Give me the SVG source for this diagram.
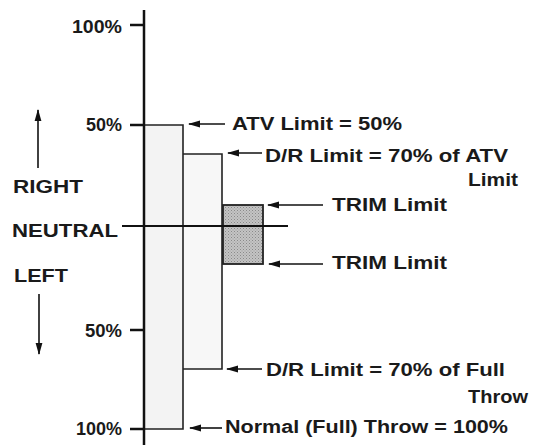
<svg xmlns="http://www.w3.org/2000/svg" width="537" height="448" viewBox="0 0 537 448">
<defs>
<marker id="ah" viewBox="0 0 12 8" refX="11" refY="4" markerWidth="12" markerHeight="8" markerUnits="userSpaceOnUse" orient="auto">
<path d="M12,4 L0,0.6 L0,7.4 Z" fill="#111"/>
</marker>
<pattern id="dots" width="3" height="3" patternUnits="userSpaceOnUse">
<rect width="3" height="3" fill="#c4c4c4"/>
<rect width="1" height="1" fill="#8a8a8a"/>
<rect x="1.5" y="1.5" width="1" height="1" fill="#9a9a9a"/>
</pattern>
</defs>
<style>
text{font-family:"Liberation Sans",Arial,sans-serif;font-weight:bold;fill:#1a1a1a;font-size:18px}
.lead{stroke:#111;stroke-width:1.6;fill:none}
.edge{stroke:#222;stroke-width:1.6;fill:none}
.tick{stroke:#111;stroke-width:2.5}
</style>
<rect width="537" height="448" fill="#fff"/>
<g id="bars">
<rect x="144" y="125" width="39" height="304" fill="#f3f3f3"/>
<rect x="183" y="154" width="39" height="215" fill="#f7f7f7"/>
<path class="edge" d="M144,125 H183 V429 H144"/>
<path class="edge" d="M183,154 H222 V369 H183"/>
</g>
<g id="trim">
<rect x="223" y="205" width="40" height="59" fill="url(#dots)" stroke="#222" stroke-width="1.8"/>
</g>
<g id="axis">
<line class="tick" x1="144" y1="10" x2="144" y2="445" stroke-width="2.8"/>
<line class="tick" x1="130" y1="25" x2="144" y2="25"/>
<line class="tick" x1="130" y1="125" x2="144" y2="125"/>
<line class="tick" x1="130" y1="330" x2="144" y2="330"/>
<line class="tick" x1="130" y1="429" x2="144" y2="429"/>
<line x1="122" y1="226" x2="288" y2="226" stroke="#111" stroke-width="2.2"/>
<text x="122" y="33" text-anchor="end" textLength="50" lengthAdjust="spacingAndGlyphs">100%</text>
<text x="122" y="131" text-anchor="end" textLength="36" lengthAdjust="spacingAndGlyphs">50%</text>
<text x="122" y="337" text-anchor="end" textLength="37" lengthAdjust="spacingAndGlyphs">50%</text>
<text x="122" y="435" text-anchor="end" textLength="46" lengthAdjust="spacingAndGlyphs">100%</text>
<text x="13" y="193" textLength="70" lengthAdjust="spacingAndGlyphs">RIGHT</text>
<text x="12" y="237" textLength="106" lengthAdjust="spacingAndGlyphs">NEUTRAL</text>
<text x="14" y="282" textLength="54" lengthAdjust="spacingAndGlyphs">LEFT</text>
</g>
<g id="direction">
<line class="lead" x1="38" y1="168" x2="38" y2="110" marker-end="url(#ah)"/>
<line class="lead" x1="39" y1="294" x2="39" y2="354" marker-end="url(#ah)"/>
</g>
<g id="connectors">
<line class="lead" x1="225" y1="124" x2="189" y2="124" marker-end="url(#ah)"/>
<line class="lead" x1="262" y1="153" x2="228" y2="153" marker-end="url(#ah)"/>
<line class="lead" x1="323" y1="205" x2="268" y2="205" marker-end="url(#ah)"/>
<line class="lead" x1="323" y1="264" x2="269" y2="264" marker-end="url(#ah)"/>
<line class="lead" x1="262" y1="369" x2="227" y2="369" marker-end="url(#ah)"/>
<line class="lead" x1="222" y1="428" x2="190" y2="428" marker-end="url(#ah)"/>
</g>
<g id="labels">
<text x="232" y="130" textLength="170" lengthAdjust="spacingAndGlyphs">ATV Limit = 50%</text>
<text x="265" y="162" textLength="243" lengthAdjust="spacingAndGlyphs">D/R Limit = 70% of ATV</text>
<text x="468" y="186" textLength="50" lengthAdjust="spacingAndGlyphs">Limit</text>
<text x="332" y="211" textLength="115" lengthAdjust="spacingAndGlyphs">TRIM Limit</text>
<text x="332" y="269" textLength="115" lengthAdjust="spacingAndGlyphs">TRIM Limit</text>
<text x="266" y="376" textLength="239" lengthAdjust="spacingAndGlyphs">D/R Limit = 70% of Full</text>
<text x="468" y="403" textLength="60" lengthAdjust="spacingAndGlyphs">Throw</text>
<text x="225" y="433" textLength="283" lengthAdjust="spacingAndGlyphs">Normal (Full) Throw = 100%</text>
</g>
</svg>
